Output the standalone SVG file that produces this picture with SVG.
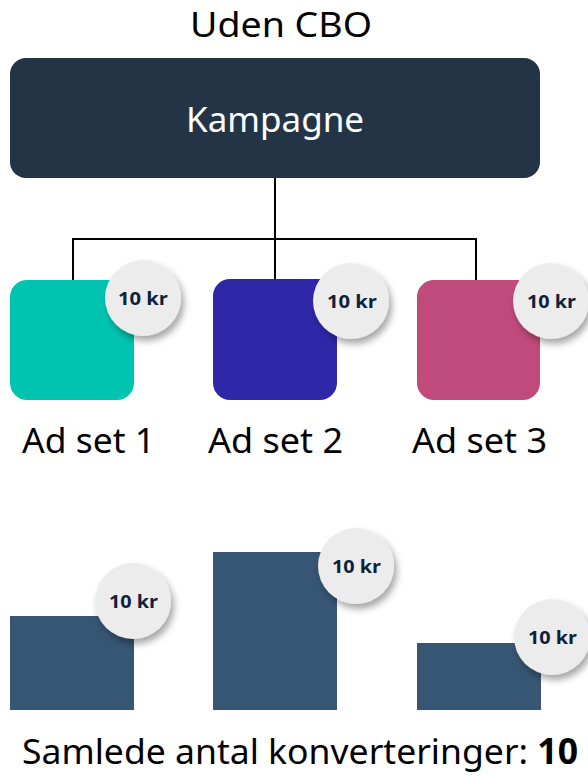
<svg xmlns="http://www.w3.org/2000/svg" width="588" height="776" viewBox="0 0 588 776">
  <defs>
    <filter id="badgeShadow" x="-40%" y="-40%" width="190%" height="190%">
      <feDropShadow dx="3" dy="5" stdDeviation="3.5" flood-color="#000" flood-opacity="0.35"/>
    </filter>
    <style>
      .label { font-family: "Noto Sans", "Open Sans", sans-serif; fill: #000; }
      .badge circle { fill: #ececec; filter: url(#badgeShadow); }
      .badge text { font-family: "Open Sans", "Noto Sans", sans-serif; font-weight: 700; font-size: 18.5px; fill: #0f1f3d; }
      .bar { fill: #375673; }
      .wire { fill: none; stroke: #000; stroke-width: 2; }
    </style>
  </defs>
  <rect width="588" height="776" fill="#fff"/>

  <text class="label" x="190" y="37" font-size="34" textLength="182" lengthAdjust="spacingAndGlyphs">Uden CBO</text>

  <!-- connectors -->
  <g id="connectors">
    <path class="wire" d="M275 178 V239 M73 281 V239 H476 V281 M275 239 V281"/>
  </g>

  <g id="kampagne">
    <rect x="10" y="58" width="530" height="120" rx="16" fill="#243447"/>
    <text x="186" y="132" font-family="Noto Sans, Open Sans, sans-serif" font-size="34" fill="#fff" textLength="178" lengthAdjust="spacingAndGlyphs">Kampagne</text>
  </g>

  <g id="adset1">
    <rect x="10" y="280" width="124" height="120" rx="17" fill="#00c4b0"/>
    <g class="badge"><circle cx="143" cy="298" r="38"/><text x="118" y="305" textLength="50" lengthAdjust="spacingAndGlyphs">10 kr</text></g>
    <text class="label" x="22" y="453" font-size="35" textLength="133" lengthAdjust="spacingAndGlyphs">Ad set 1</text>
  </g>

  <g id="adset2">
    <rect x="213" y="279" width="124" height="121" rx="17" fill="#2e27a8"/>
    <g class="badge"><circle cx="351" cy="301" r="38"/><text x="327" y="308" textLength="50" lengthAdjust="spacingAndGlyphs">10 kr</text></g>
    <text class="label" x="208" y="453" font-size="35" textLength="135" lengthAdjust="spacingAndGlyphs">Ad set 2</text>
  </g>

  <g id="adset3">
    <rect x="417" y="280" width="123" height="120" rx="17" fill="#c04a7b"/>
    <g class="badge"><circle cx="551" cy="301" r="38"/><text x="527" y="308" textLength="49" lengthAdjust="spacingAndGlyphs">10 kr</text></g>
    <text class="label" x="412" y="453" font-size="35" textLength="135" lengthAdjust="spacingAndGlyphs">Ad set 3</text>
  </g>

  <g id="bar1">
    <rect class="bar" x="10" y="616" width="124" height="94"/>
    <g class="badge"><circle cx="133" cy="601" r="38"/><text x="109" y="608" textLength="49" lengthAdjust="spacingAndGlyphs">10 kr</text></g>
  </g>

  <g id="bar2">
    <rect class="bar" x="213" y="552" width="124" height="158"/>
    <g class="badge"><circle cx="356" cy="566" r="38"/><text x="332" y="573" textLength="49" lengthAdjust="spacingAndGlyphs">10 kr</text></g>
  </g>

  <g id="bar3">
    <rect class="bar" x="417" y="643" width="124" height="67"/>
    <g class="badge"><circle cx="552" cy="637" r="38"/><text x="528" y="644" textLength="49" lengthAdjust="spacingAndGlyphs">10 kr</text></g>
  </g>

  <text class="label" x="22" y="764" font-size="35" textLength="556" lengthAdjust="spacingAndGlyphs">Samlede antal konverteringer: <tspan font-weight="700">10</tspan></text>
</svg>
